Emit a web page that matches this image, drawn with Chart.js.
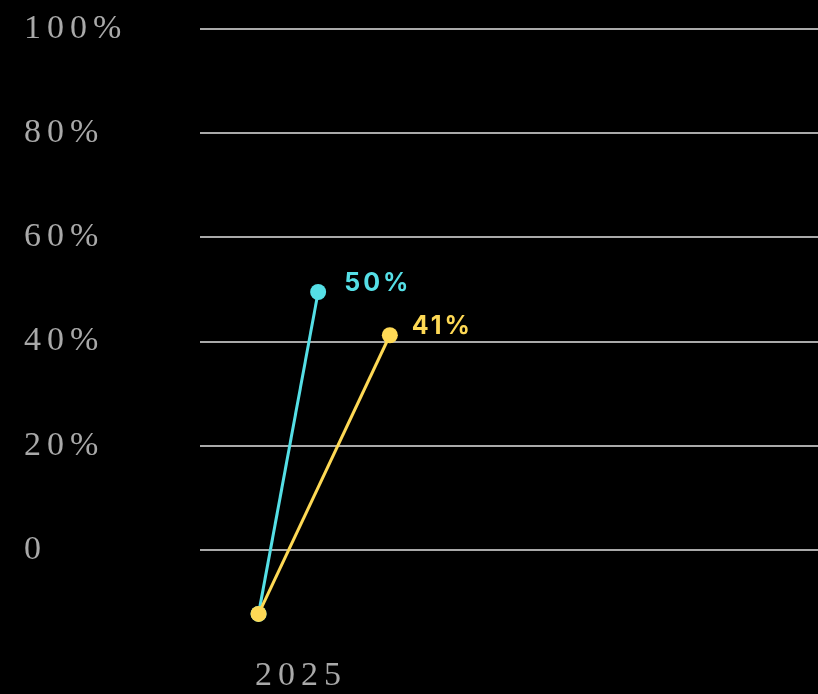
<!DOCTYPE html>
<html>
<head>
<meta charset="UTF-8">
<title>chart</title>
<script src="https://cdn.jsdelivr.net/npm/chart.js"></script>
<style>
  *{padding: 0; margin: 0;}
  html, body{background: #000; overflow: hidden;}
  #wrap{width: 818px; height: 694px;}
</style>
</head>
<body>
<div id="wrap"><canvas id="myChart"></canvas></div>
<script>
// data
const cyanX = [2024.58, 2025.17];
const cyanValues = [-12.3, 49.5];
const yellowX = [2024.58, 2025.88];
const yellowValues = [-12.3, 41.2];
const yTicks = [0, 20, 40, 60, 80, 100];
const xTicks = [2025];

const cyan = '#55dfe6';
const yellow = '#fed955';
const grey = '#a9a9a9';

function toPoints(xs, ys){
  let arr = [];
  for(let i=0;i<xs.length;i++){ arr.push({x: xs[i], y: ys[i]}); }
  return arr;
}

// letter spacing for axis text
const spacing = {
  id: 'spacing',
  beforeDraw(chart){ chart.ctx.letterSpacing = '6px'; }
};

// value label next to the last point of each line
const endLabels = {
  id: 'endLabels',
  afterDatasetsDraw(chart){
    const ctx = chart.ctx;
    ctx.save();
    ctx.letterSpacing = '3px';
    ctx.font = 'bold 25px Inter';
    ctx.textBaseline = 'middle';
    ctx.textAlign = 'left';
    chart.data.datasets.forEach((ds, i) => {
      const meta = chart.getDatasetMeta(i);
      const pt = meta.data[meta.data.length - 1];
      const v = ds.data[ds.data.length - 1].y;
      ctx.fillStyle = ds.borderColor;
      ctx.fillText(Math.round(v) + '%', pt.x + ds.labelDx, pt.y - 9);
    });
    ctx.restore();
  }
};

new Chart(document.getElementById('myChart'), {
  type: 'line',
  data: {
    datasets: [
      {
        label: 'cyan',
        data: toPoints(cyanX, cyanValues),
        borderColor: cyan,
        backgroundColor: cyan,
        borderWidth: 3,
        pointRadius: 8,
        pointBorderWidth: 0,
        clip: false,
        order: 1,
        labelDx: 26
      },
      {
        label: 'yellow',
        data: toPoints(yellowX, yellowValues),
        borderColor: yellow,
        backgroundColor: yellow,
        borderWidth: 3,
        pointRadius: 8,
        pointBorderWidth: 0,
        clip: false,
        order: 0,
        labelDx: 22
      }
    ]
  },
  options: {
    responsive: true,
    maintainAspectRatio: false,
    animation: false,
    layout: {autoPadding: false, padding: {left: 24, right: 0, top: 29, bottom: 0}},
    plugins: {legend: {display: false}, tooltip: {enabled: false}},
    scales: {
      x: {
        type: 'linear',
        min: 2024,
        max: 2030.12,
        afterBuildTicks(scale){ scale.ticks = xTicks.map(v => ({value: v})); },
        afterFit(scale){ scale.height = 40; },
        grid: {display: false},
        border: {display: false},
        ticks: {
          color: grey,
          font: {family: 'Liberation Serif', size: 34},
          padding: -6,
          maxRotation: 0,
          callback: v => String(v)
        }
      },
      y: {
        min: -20,
        max: 100,
        afterBuildTicks(scale){ scale.ticks = yTicks.map(v => ({value: v})); },
        afterFit(scale){ scale.width = 176; },
        grid: {color: grey, lineWidth: 2, drawTicks: false},
        border: {display: false},
        ticks: {
          color: grey,
          font: {family: 'Liberation Serif', size: 34},
          crossAlign: 'far',
          padding: 0,
          callback: v => v === 0 ? '0' : v + '%'
        }
      }
    }
  },
  plugins: [spacing, endLabels]
});
</script>
</body>
</html>
